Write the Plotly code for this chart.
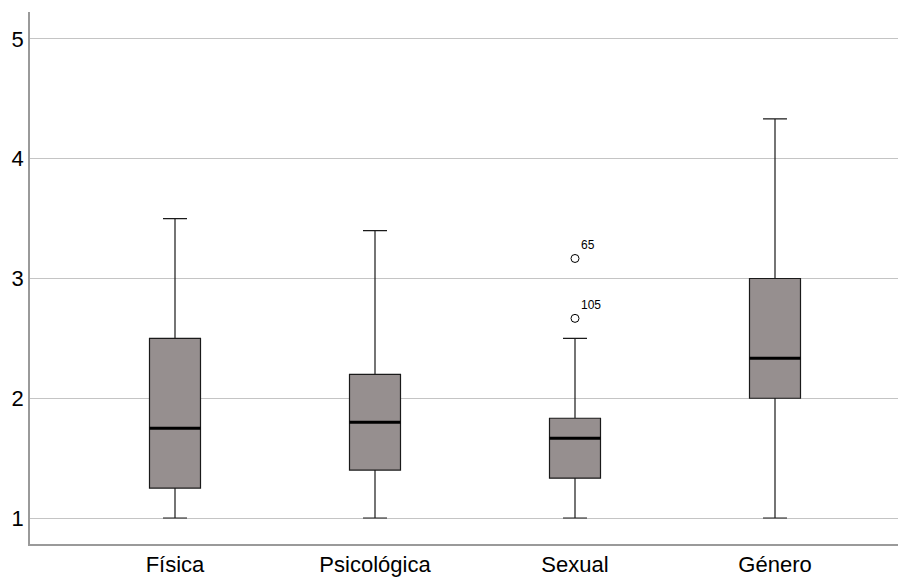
import plotly.graph_objects as go

categories = ["Física", "Psicológica", "Sexual", "Género"]
lower = [1.0, 1.0, 1.0, 1.0]
q1 = [1.25, 1.4, 1.333, 2.0]
median = [1.75, 1.8, 1.667, 2.333]
q3 = [2.5, 2.2, 1.833, 3.0]
upper = [3.5, 3.4, 2.5, 4.333]
outlier_cat = [2, 2]
outlier_val = [3.167, 2.667]
outlier_lab = ["65", "105"]

pos = list(range(len(categories)))
box_w = 0.255

fig = go.Figure()
fig.add_trace(go.Box(
    x=pos, q1=q1, median=median, q3=q3, lowerfence=lower, upperfence=upper,
    width=box_w, whiskerwidth=0.47,
    fillcolor="#968f8f", line=dict(color="#1a1a1a", width=1.2),
    boxpoints=False, showlegend=False, hoverinfo="skip",
))

# thick median lines
mx, my = [], []
for p, m in zip(pos, median):
    mx += [p - box_w / 2, p + box_w / 2, None]
    my += [m, m, None]
fig.add_trace(go.Scatter(x=mx, y=my, mode="lines",
                         line=dict(color="black", width=3),
                         showlegend=False, hoverinfo="skip"))

fig.add_trace(go.Scatter(
    x=outlier_cat, y=outlier_val, mode="markers+text",
    marker=dict(symbol="circle-open", size=8, color="black", line=dict(width=1, color="black")),
    text=outlier_lab, textposition="top right",
    textfont=dict(family="Liberation Sans, Arial", size=12, color="#000000"),
    showlegend=False, hoverinfo="skip"))

fig.update_layout(
    width=898, height=569,
    margin=dict(l=22, r=0, t=4, b=33),
    plot_bgcolor="white", paper_bgcolor="white",
    font=dict(family="Liberation Sans, Arial", size=22, color="black"),
)
fig.update_xaxes(
    range=[-0.725, 3.655], tickmode="array", tickvals=pos, ticktext=categories,
    showgrid=False, zeroline=False, showline=True, linecolor="#9a9a9a", linewidth=1.5,
    ticks="", ticklen=0, tickfont=dict(size=22), automargin=False,
)
fig.update_yaxes(
    range=[0.783, 5.225], tickvals=[1, 2, 3, 4, 5],
    showgrid=True, gridcolor="#c4c4c4", gridwidth=1, zeroline=False,
    showline=True, linecolor="#9a9a9a", linewidth=1.5, ticks="",
    tickfont=dict(size=22), automargin=False,
)

fig.write_html("out.html")
